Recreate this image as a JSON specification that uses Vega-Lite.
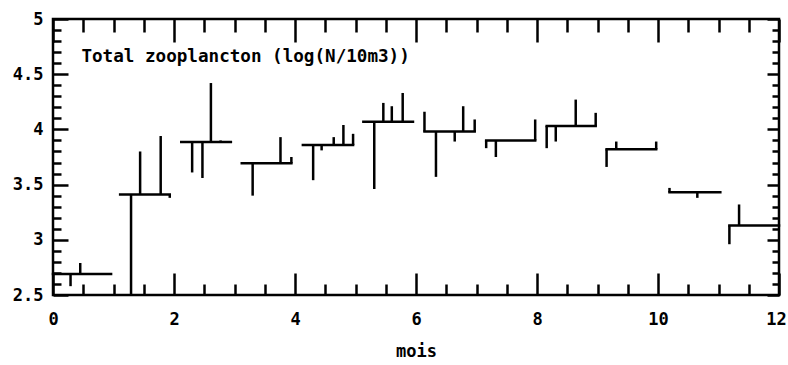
{
  "$schema": "https://vega.github.io/schema/vega-lite/v6.json",
  "width": 726,
  "height": 276,
  "autosize": {"type": "none"},
  "padding": {"left": 53, "top": 19, "right": 9, "bottom": 70},
  "background": "white",
  "config": {
    "view": {"stroke": "black", "strokeWidth": 2.5},
    "axis": {
      "grid": false,
      "domain": false,
      "labelFont": "DejaVu Sans Mono",
      "labelFontWeight": "bold",
      "labelFontSize": 17,
      "labelColor": "black",
      "labelFlush": false,
      "labelOverlap": false,
      "titleFont": "DejaVu Sans Mono",
      "titleFontWeight": "bold",
      "titleFontSize": 17,
      "titleColor": "black",
      "tickColor": "black",
      "tickWidth": 2.5
    }
  },
  "datasets": {
    "moyennes": [
      {"debut": 0, "fin": 0.96, "moyenne": 2.69},
      {"debut": 1.11, "fin": 1.93, "moyenne": 3.41},
      {"debut": 2.12, "fin": 2.94, "moyenne": 3.886},
      {"debut": 3.12, "fin": 3.94, "moyenne": 3.693},
      {"debut": 4.13, "fin": 4.96, "moyenne": 3.859},
      {"debut": 5.13, "fin": 5.95, "moyenne": 4.07},
      {"debut": 6.14, "fin": 6.97, "moyenne": 3.98},
      {"debut": 7.16, "fin": 7.97, "moyenne": 3.9},
      {"debut": 8.16, "fin": 8.97, "moyenne": 4.03},
      {"debut": 9.15, "fin": 9.97, "moyenne": 3.82},
      {"debut": 10.19, "fin": 11.03, "moyenne": 3.43},
      {"debut": 11.18, "fin": 12, "moyenne": 3.13}
    ],
    "observations": [
      {"mois": 0.29, "moyenne": 2.69, "valeur": 2.58},
      {"mois": 0.45, "moyenne": 2.69, "valeur": 2.79},
      {"mois": 1.29, "moyenne": 3.41, "valeur": 2.5},
      {"mois": 1.44, "moyenne": 3.41, "valeur": 3.8},
      {"mois": 1.78, "moyenne": 3.41, "valeur": 3.94},
      {"mois": 1.93, "moyenne": 3.41, "valeur": 3.38},
      {"mois": 2.3, "moyenne": 3.886, "valeur": 3.61},
      {"mois": 2.47, "moyenne": 3.886, "valeur": 3.56},
      {"mois": 2.61, "moyenne": 3.886, "valeur": 4.42},
      {"mois": 2.77, "moyenne": 3.886, "valeur": 3.9},
      {"mois": 3.3, "moyenne": 3.693, "valeur": 3.4},
      {"mois": 3.76, "moyenne": 3.693, "valeur": 3.93},
      {"mois": 3.94, "moyenne": 3.693, "valeur": 3.75},
      {"mois": 4.3, "moyenne": 3.859, "valeur": 3.54},
      {"mois": 4.44, "moyenne": 3.859, "valeur": 3.81},
      {"mois": 4.64, "moyenne": 3.859, "valeur": 3.93},
      {"mois": 4.8, "moyenne": 3.859, "valeur": 4.04},
      {"mois": 4.96, "moyenne": 3.859, "valeur": 3.96},
      {"mois": 5.31, "moyenne": 4.07, "valeur": 3.46},
      {"mois": 5.46, "moyenne": 4.07, "valeur": 4.24},
      {"mois": 5.6, "moyenne": 4.07, "valeur": 4.21},
      {"mois": 5.78, "moyenne": 4.07, "valeur": 4.33},
      {"mois": 6.14, "moyenne": 3.98, "valeur": 4.16},
      {"mois": 6.33, "moyenne": 3.98, "valeur": 3.57},
      {"mois": 6.64, "moyenne": 3.98, "valeur": 3.89},
      {"mois": 6.78, "moyenne": 3.98, "valeur": 4.21},
      {"mois": 6.97, "moyenne": 3.98, "valeur": 4.09},
      {"mois": 7.16, "moyenne": 3.9, "valeur": 3.83},
      {"mois": 7.32, "moyenne": 3.9, "valeur": 3.75},
      {"mois": 7.97, "moyenne": 3.9, "valeur": 4.09},
      {"mois": 8.16, "moyenne": 4.03, "valeur": 3.83},
      {"mois": 8.31, "moyenne": 4.03, "valeur": 3.89},
      {"mois": 8.64, "moyenne": 4.03, "valeur": 4.27},
      {"mois": 8.97, "moyenne": 4.03, "valeur": 4.15},
      {"mois": 9.15, "moyenne": 3.82, "valeur": 3.66},
      {"mois": 9.31, "moyenne": 3.82, "valeur": 3.89},
      {"mois": 9.97, "moyenne": 3.82, "valeur": 3.89},
      {"mois": 10.19, "moyenne": 3.43, "valeur": 3.47},
      {"mois": 10.65, "moyenne": 3.43, "valeur": 3.38},
      {"mois": 11.18, "moyenne": 3.13, "valeur": 2.96},
      {"mois": 11.34, "moyenne": 3.13, "valeur": 3.32}
    ]
  },
  "resolve": {"axis": {"x": "independent", "y": "independent"}},
  "layer": [
    {
      "data": {"name": "moyennes"},
      "mark": {"type": "rule", "color": "black", "strokeWidth": 2.5, "strokeCap": "square"},
      "encoding": {
        "x": {"field": "debut", "type": "quantitative", "scale": {"domain": [0, 12], "nice": false},
          "axis": {"orient": "bottom", "values": [0, 2, 4, 6, 8, 10, 12], "ticks": false, "labelPadding": 16, "title": "mois", "titlePadding": 16,
            "labelOffset": {"condition": {"test": "datum.value == 12", "value": -3}, "value": 0}}},
        "x2": {"field": "fin"},
        "y": {"field": "moyenne", "type": "quantitative", "scale": {"domain": [2.5, 5], "nice": false, "zero": false},
          "axis": {"orient": "left", "values": [2.5, 3, 3.5, 4, 4.5, 5], "ticks": false, "labelPadding": 10, "format": "~g", "title": null}}
      }
    },
    {
      "data": {"name": "observations"},
      "mark": {"type": "rule", "color": "black", "strokeWidth": 2.5},
      "encoding": {
        "x": {"field": "mois", "type": "quantitative", "axis": null},
        "y": {"field": "moyenne", "type": "quantitative", "axis": null},
        "y2": {"field": "valeur"}
      }
    },
    {
      "data": {"name": "moyennes"},
      "mark": {"type": "rule", "opacity": 0},
      "encoding": {
        "x": {"field": "debut", "type": "quantitative",
          "axis": {"orient": "bottom", "values": [0, 2, 4, 6, 8, 10, 12], "labels": false, "tickSize": -22, "title": null}},
        "y": {"field": "moyenne", "type": "quantitative",
          "axis": {"orient": "left", "values": [2.5, 3, 3.5, 4, 4.5, 5], "labels": false, "tickSize": -15, "title": null}}
      }
    },
    {
      "data": {"name": "moyennes"},
      "mark": {"type": "rule", "opacity": 0},
      "encoding": {
        "x": {"field": "debut", "type": "quantitative",
          "axis": {"orient": "bottom", "values": [0.5, 1, 1.5, 2.5, 3, 3.5, 4.5, 5, 5.5, 6.5, 7, 7.5, 8.5, 9, 9.5, 10.5, 11, 11.5], "labels": false, "tickSize": -11, "title": null}},
        "y": {"field": "moyenne", "type": "quantitative",
          "axis": {"orient": "left", "values": [2.6, 2.7, 2.8, 2.9, 3.1, 3.2, 3.3, 3.4, 3.6, 3.7, 3.8, 3.9, 4.1, 4.2, 4.3, 4.4, 4.6, 4.7, 4.8, 4.9], "labels": false, "tickSize": -8, "title": null}}
      }
    },
    {
      "data": {"name": "moyennes"},
      "mark": {"type": "rule", "opacity": 0},
      "encoding": {
        "x": {"field": "debut", "type": "quantitative",
          "axis": {"orient": "top", "values": [0, 2, 4, 6, 8, 10, 12], "labels": false, "tickSize": -23, "title": null}},
        "y": {"field": "moyenne", "type": "quantitative",
          "axis": {"orient": "right", "values": [2.5, 3, 3.5, 4, 4.5, 5], "labels": false, "tickSize": -12, "title": null}}
      }
    },
    {
      "data": {"name": "moyennes"},
      "mark": {"type": "rule", "opacity": 0},
      "encoding": {
        "x": {"field": "debut", "type": "quantitative",
          "axis": {"orient": "top", "values": [0.5, 1, 1.5, 2.5, 3, 3.5, 4.5, 5, 5.5, 6.5, 7, 7.5, 8.5, 9, 9.5, 10.5, 11, 11.5], "labels": false, "tickSize": -13, "title": null}},
        "y": {"field": "moyenne", "type": "quantitative",
          "axis": {"orient": "right", "values": [2.6, 2.7, 2.8, 2.9, 3.1, 3.2, 3.3, 3.4, 3.6, 3.7, 3.8, 3.9, 4.1, 4.2, 4.3, 4.4, 4.6, 4.7, 4.8, 4.9], "labels": false, "tickSize": -7, "title": null}}
      }
    },
    {
      "data": {"values": [{"titre": "Total zooplancton (log(N/10m3))"}]},
      "mark": {"type": "text", "align": "left", "baseline": "alphabetic", "font": "DejaVu Sans Mono", "fontWeight": "bold", "fontSize": 17.6, "color": "black"},
      "encoding": {
        "x": {"datum": 0.47, "type": "quantitative", "axis": null},
        "y": {"datum": 4.61, "type": "quantitative", "axis": null},
        "text": {"field": "titre"}
      }
    }
  ]
}
